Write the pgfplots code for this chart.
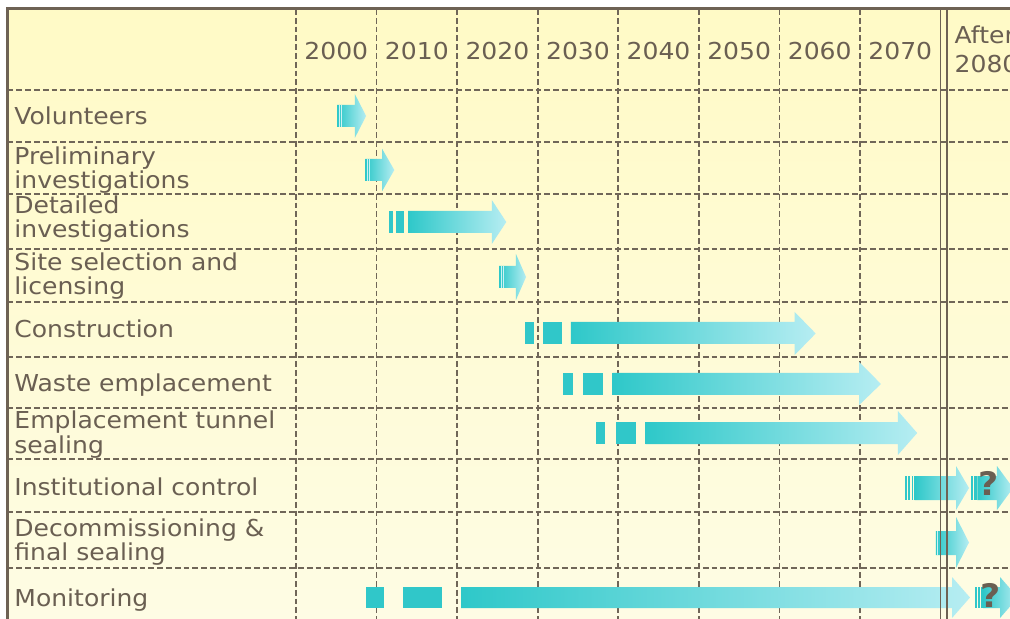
\documentclass[border=0pt]{standalone}
\usepackage{pgfplots}
\pgfplotsset{compat=1.18}
\usepackage{fontspec}
\setmainfont{DejaVu Sans}[FakeStretch=1.075]
\definecolor{txt}{RGB}{106,95,82}
\definecolor{gridc}{RGB}{112,102,88}
\definecolor{framec}{RGB}{110,98,84}
\definecolor{bgtop}{RGB}{255,250,198}
\definecolor{bgbot}{RGB}{254,252,228}
\definecolor{tealA}{RGB}{46,200,201}
\definecolor{tealB}{RGB}{182,237,242}
\definecolor{stripe}{RGB}{48,199,201}
\begin{document}
\begin{tikzpicture}[
  lbl/.style={anchor=base west, inner sep=0pt, text=txt, font=\fontsize{11.65}{11.8}\selectfont},
  yr/.style={anchor=base, inner sep=0pt, text=txt, font=\fontsize{11.65}{11.8}\selectfont},
  qm/.style={anchor=base, inner sep=0pt, text=txt, font=\fontsize{16.2}{16}\selectfont\bfseries}]
\path[use as bounding box] (0,0) rectangle (505pt,309.5pt);
\clip (0,0) rectangle (505pt,309.5pt);
\begin{axis}[at={(0,0)}, anchor=south west, width=505pt, height=309.5pt, scale only axis,
  xmin=1963.26, xmax=2088.62, ymin=0, ymax=619, y dir=reverse, axis lines=none, clip=true,
  hgrid/.style={draw=gridc, line width=0.85pt, dash pattern=on 2.9pt off 1.5pt},
  arr/.style={draw=none, left color=tealA, right color=tealB},
  st/.style={draw=none, fill=stripe},
  lt/.style={draw=white, draw opacity=0.75, line width=0.35pt},
  dbl/.style={draw=framec, line width=0.9pt}]
% background
\addplot[draw=none, top color=bgtop, bottom color=bgbot] coordinates {(1964.19,8.5) (2089,8.5) (2089,619) (1964.19,619)};
% horizontal dashed lines
\addplot[hgrid] coordinates {(1964.2,90) (2089,90)};
\addplot[hgrid] coordinates {(1964.2,142) (2089,142)};
\addplot[hgrid] coordinates {(1964.2,194) (2089,194)};
\addplot[hgrid] coordinates {(1964.2,249) (2089,249)};
\addplot[hgrid] coordinates {(1964.2,302) (2089,302)};
\addplot[hgrid] coordinates {(1964.2,357) (2089,357)};
\addplot[hgrid] coordinates {(1964.2,408) (2089,408)};
\addplot[hgrid] coordinates {(1964.2,459) (2089,459)};
\addplot[hgrid] coordinates {(1964.2,512) (2089,512)};
\addplot[hgrid] coordinates {(1964.2,568) (2089,568)};
% vertical dashed lines
\addplot[hgrid] coordinates {(2000,9) (2000,619)};
\addplot[hgrid] coordinates {(2010,9) (2010,619)};
\addplot[hgrid] coordinates {(2020,9) (2020,619)};
\addplot[hgrid] coordinates {(2030,9) (2030,619)};
\addplot[hgrid] coordinates {(2040,9) (2040,619)};
\addplot[hgrid] coordinates {(2050,9) (2050,619)};
\addplot[hgrid] coordinates {(2060,9) (2060,619)};
\addplot[hgrid] coordinates {(2070,9) (2070,619)};
% Volunteers
\addplot[arr] coordinates {(2005.1,105)(2007.3,105)(2007.3,94)(2008.7,116)(2007.3,138)(2007.3,127)(2005.1,127)};
\addplot[lt] coordinates {(2005.33,105)(2005.33,127)};
\addplot[lt] coordinates {(2005.6,105)(2005.6,127)};
% Preliminary investigations
\addplot[arr] coordinates {(2008.6,159)(2010.7,159)(2010.7,149)(2012.2,170)(2010.7,191)(2010.7,181)(2008.6,181)};
\addplot[lt] coordinates {(2008.83,159)(2008.83,181)};
\addplot[lt] coordinates {(2009.1,159)(2009.1,181)};
% Detailed investigations
\addplot[st] coordinates {(2011.5,211)(2012.0,211)(2012.0,233)(2011.5,233)};
\addplot[st] coordinates {(2012.4,211)(2013.4,211)(2013.4,233)(2012.4,233)};
\addplot[arr] coordinates {(2013.9,211)(2024.3,211)(2024.3,200)(2026.1,222)(2024.3,244)(2024.3,233)(2013.9,233)};
% Site selection and licensing
\addplot[arr] coordinates {(2025.2,266)(2027.3,266)(2027.3,254)(2028.55,277)(2027.3,300)(2027.3,288)(2025.2,288)};
\addplot[lt] coordinates {(2025.45,266)(2025.45,288)};
\addplot[lt] coordinates {(2025.7,266)(2025.7,288)};
% Construction
\addplot[st] coordinates {(2028.4,322)(2029.5,322)(2029.5,344)(2028.4,344)};
\addplot[st] coordinates {(2030.7,322)(2033.0,322)(2033.0,344)(2030.7,344)};
\addplot[arr] coordinates {(2034.1,322)(2061.9,322)(2061.9,312)(2064.5,333.5)(2061.9,355)(2061.9,344)(2034.1,344)};
% Waste emplacement
\addplot[st] coordinates {(2033.1,373)(2034.4,373)(2034.4,395)(2033.1,395)};
\addplot[st] coordinates {(2035.6,373)(2038.1,373)(2038.1,395)(2035.6,395)};
\addplot[arr] coordinates {(2039.3,373)(2069.9,373)(2069.9,362)(2072.6,384)(2069.9,405)(2069.9,395)(2039.3,395)};
% Emplacement tunnel sealing
\addplot[st] coordinates {(2037.2,422)(2038.35,422)(2038.35,444)(2037.2,444)};
\addplot[st] coordinates {(2039.7,422)(2042.2,422)(2042.2,444)(2039.7,444)};
\addplot[arr] coordinates {(2043.4,422)(2074.7,422)(2074.7,411)(2077.1,433)(2074.7,455)(2074.7,444)(2043.4,444)};
% Institutional control
\addplot[st] coordinates {(2075.59,476)(2075.80,476)(2075.80,500)(2075.59,500)};
\addplot[st] coordinates {(2076.00,476)(2076.21,476)(2076.21,500)(2076.00,500)};
\addplot[st] coordinates {(2076.41,476)(2076.61,476)(2076.61,500)(2076.41,500)};
\addplot[arr] coordinates {(2076.79,476)(2081.92,476)(2081.92,466)(2083.53,488)(2081.92,510)(2081.92,500)(2076.79,500)};
\addplot[st] coordinates {(2083.78,476)(2084.03,476)(2084.03,500)(2083.78,500)};
\addplot[st] coordinates {(2084.21,476)(2084.46,476)(2084.46,500)(2084.21,500)};
\addplot[arr] coordinates {(2084.58,476)(2087.0,476)(2087.0,466)(2089.0,488)(2087.0,510)(2087.0,500)(2084.58,500)};
% Decommissioning & final sealing
\addplot[arr] coordinates {(2079.43,531)(2081.92,531)(2081.92,517)(2083.53,542.5)(2081.92,568)(2081.92,555)(2079.43,555)};
\addplot[lt] coordinates {(2079.62,531)(2079.62,555)};
% Monitoring
\addplot[st] coordinates {(2008.69,587)(2010.92,587)(2010.92,608)(2008.69,608)};
\addplot[st] coordinates {(2013.28,587)(2018.12,587)(2018.12,608)(2013.28,608)};
\addplot[arr] coordinates {(2020.48,587)(2081.42,587)(2081.42,577)(2083.65,597.5)(2081.42,618)(2081.42,608)(2020.48,608)};
\addplot[st] coordinates {(2084.27,587)(2084.52,587)(2084.52,608)(2084.27,608)};
\addplot[st] coordinates {(2084.64,587)(2084.89,587)(2084.89,608)(2084.64,608)};
\addplot[st] coordinates {(2085.02,587)(2085.27,587)(2085.27,608)(2085.02,608)};
\addplot[arr] coordinates {(2085.27,587)(2087.38,587)(2087.38,577)(2089.6,597.5)(2087.38,618)(2087.38,608)(2085.27,608)};
% double solid line at 2080
\addplot[dbl] coordinates {(2080,9) (2080,619)};
\addplot[dbl] coordinates {(2080.76,9) (2080.76,619)};
% frame
\addplot[draw=framec, line width=1.5pt] coordinates {(1964.19,619) (1964.19,8.5) (2089,8.5)};
% header
\node[yr] at (axis cs:2005,60) {2000};
\node[yr] at (axis cs:2015,60) {2010};
\node[yr] at (axis cs:2025,60) {2020};
\node[yr] at (axis cs:2035,60) {2030};
\node[yr] at (axis cs:2045,60) {2040};
\node[yr] at (axis cs:2055,60) {2050};
\node[yr] at (axis cs:2065,60) {2060};
\node[yr] at (axis cs:2075,60) {2070};
\node[lbl] at (axis cs:2081.7,43.3) {After};
\node[lbl] at (axis cs:2081.7,72.7) {2080};
% row labels
\node[lbl] at (axis cs:1965.0,125) {Volunteers};
\node[lbl] at (axis cs:1965.0,165) {Preliminary};
\node[lbl] at (axis cs:1965.0,189) {investigations};
\node[lbl] at (axis cs:1965.0,214) {Detailed};
\node[lbl] at (axis cs:1965.0,238) {investigations};
\node[lbl] at (axis cs:1965.0,271) {Site selection and};
\node[lbl] at (axis cs:1965.0,295) {licensing};
\node[lbl] at (axis cs:1965.0,338) {Construction};
\node[lbl] at (axis cs:1965.0,392) {Waste emplacement};
\node[lbl] at (axis cs:1965.0,429) {Emplacement tunnel};
\node[lbl] at (axis cs:1965.0,453) {sealing};
\node[lbl] at (axis cs:1965.0,495) {Institutional control};
\node[lbl] at (axis cs:1965.0,536.5) {Decommissioning \&};
\node[lbl] at (axis cs:1965.0,560) {final sealing};
\node[lbl] at (axis cs:1965.0,606.5) {Monitoring};
% question marks
\node[qm] at (axis cs:2085.9,495) {?};
\node[qm] at (axis cs:2086.26,607) {?};
\end{axis}
\end{tikzpicture}
\end{document}
